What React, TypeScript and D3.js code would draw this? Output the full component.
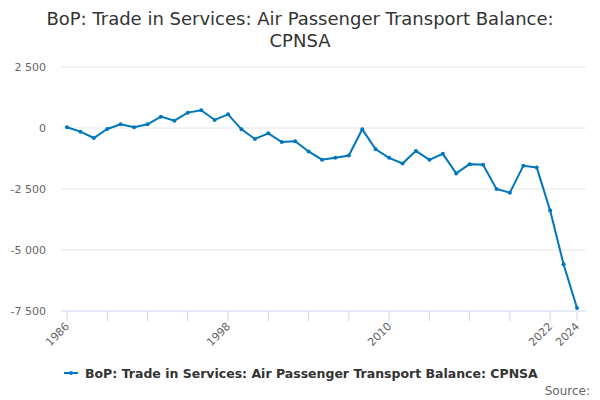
import * as d3 from "d3";

// Data
const years: number[] = d3.range(1986, 2025);
const values: number[] = [
	30, -150, -410, -40, 150, 30, 150, 465, 300, 630,
	725, 330, 560, -55, -450, -220, -575, -545, -960, -1300,
	-1223, -1128, -54, -870, -1223, -1454, -938, -1305, -1060, -1862,
	-1481, -1508, -2500, -2650, -1549, -1617, -3386, -5587, -7377,
];
const yTickValues: number[] = [2500, 0, -2500, -5000, -7500];
const xTickYears: number[] = [1986, 1989, 1992, 1995, 1998, 2001, 2004, 2007, 2010, 2013, 2016, 2019, 2022, 2024];
const xLabelYears: number[] = [1986, 1998, 2010, 2022, 2024];

const titleLines = ["BoP: Trade in Services: Air Passenger Transport Balance:", "CPNSA"];
const seriesName = "BoP: Trade in Services: Air Passenger Transport Balance: CPNSA";

const width = 600;
const height = 400;
const plot = { left: 61, right: 586, top: 67, bottom: 311 };
const lineColor = "#0077bc";
const fontFamily = "'DejaVu Sans', sans-serif";

const fmt = (v: number) => d3.format(",")(v).replace(/,/g, " ").replace("−", "-");

export default function App() {
	const x = d3.scaleLinear().domain([1986, 2024]).range([67, 577]);
	const y = d3.scaleLinear().domain([-7500, 2500]).range([plot.bottom, plot.top]);

	const points = years.map((yr, i) => ({ yr, v: values[i] }));
	const line = d3
		.line<{ yr: number; v: number }>()
		.x((d) => x(d.yr))
		.y((d) => y(d.v));

	return (
		<svg
			width={width}
			height={height}
			style={{ position: "absolute", left: 0, top: 0, fontFamily }}
		>
			<rect width={width} height={height} fill="#fff" />
			{/* Title */}
			<text x={300} y={25} textAnchor="middle" fontSize={18} fill="#333">
				{titleLines[0]}
			</text>
			<text x={300} y={47} textAnchor="middle" fontSize={18} fill="#333">
				{titleLines[1]}
			</text>

			{/* Grid and y labels */}
			{yTickValues.map((t) => (
				<g key={t}>
					{t !== -7500 && (
						<line x1={plot.left} x2={plot.right} y1={y(t)} y2={y(t)} stroke="#e6e6e6" />
					)}
					<text x={46} y={y(t) + 4} textAnchor="end" fontSize={11} fill="#666">
						{fmt(t)}
					</text>
				</g>
			))}

			{/* X axis */}
			<line x1={plot.left} x2={plot.right} y1={plot.bottom} y2={plot.bottom} stroke="#ccd6eb" />
			{xTickYears.map((yr) => (
				<line
					key={yr}
					x1={x(yr)}
					x2={x(yr)}
					y1={plot.bottom}
					y2={plot.bottom + 10}
					stroke="#ccd6eb"
				/>
			))}
			{xLabelYears.map((yr) => (
				<text
					key={yr}
					transform={`translate(${x(yr) + 3},${plot.bottom + 16}) rotate(-45)`}
					textAnchor="end"
					fontSize={11}
					fill="#666"
				>
					{yr}
				</text>
			))}

			{/* Series */}
			<path d={line(points) ?? ""} fill="none" stroke={lineColor} strokeWidth={2} />
			{points.map((d) => (
				<circle key={d.yr} cx={x(d.yr)} cy={y(d.v)} r={2} fill={lineColor} />
			))}

			{/* Legend */}
			<line x1={64} x2={78} y1={373} y2={373} stroke={lineColor} strokeWidth={2} />
			<circle cx={71} cy={373} r={2} fill={lineColor} />
			<text x={85} y={377.5} fontSize={12.5} fontWeight="bold" fill="#333">
				{seriesName}
			</text>

			{/* Credits */}
			<text x={590} y={395} textAnchor="end" fontSize={12} fill="#666">
				Source:
			</text>
		</svg>
	);
}
